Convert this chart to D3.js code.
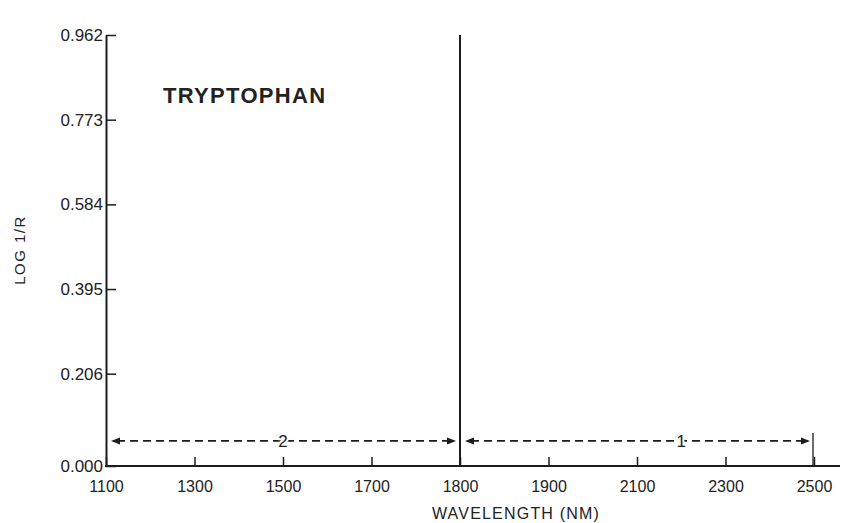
<!DOCTYPE html>
<html>
<head>
<meta charset="utf-8">
<script src="https://cdn.jsdelivr.net/npm/d3@7"></script>
<style>
  body { margin: 0; background: #fff; }
  svg { display: block; font-family: "Liberation Sans", Arial, sans-serif; }
  .tick text { fill: #222; }
</style>
</head>
<body>
<div id="chart"></div>
<script>

// tick labels along the wavelength axis (printed evenly spaced on the original)
var xTicks = [1100, 1300, 1500, 1700, 1800, 1900, 2100, 2300, 2500];
var yTicks = [0.000, 0.206, 0.395, 0.584, 0.773, 0.962];

// divider between the two regions
var dividerAt = 1800;

// the two dashed region arrows
var regionNames = ['2', '1'];
var regionFrom = [1100, 1800];
var regionTo = [1800, 2500];
var regionLabelAt = [1500, 2200];
var regionLevel = 0.056;

var width = 843;
var height = 523;
var plotLeft = 106;   // y axis position
var plotRight = 814;  // last tick
var plotTop = 35;
var plotBottom = 466;
var ink = '#1c1c1c';

var step = (plotRight - plotLeft) / (xTicks.length - 1);

// piecewise scale so that every labelled tick is evenly spaced
var x = d3.scaleLinear()
    .domain(xTicks)
    .range(xTicks.map(function(d, i) { return plotLeft + i * step; }));

var y = d3.scaleLinear()
    .domain([0, d3.max(yTicks)])
    .range([plotBottom, plotTop]);

var svg = d3.select('#chart')
  .append('svg')
    .attr('width', width)
    .attr('height', height);

// y axis, ticks point inwards
var yAxis = svg.append('g')
    .attr('transform', 'translate(' + plotLeft + ',0)')
    .call(d3.axisLeft(y)
      .tickValues(yTicks)
      .tickFormat(d3.format('.3f'))
      .tickSizeInner(-10)
      .tickSizeOuter(0)
      .tickPadding(3));

yAxis.select('.domain').attr('stroke', ink).attr('stroke-width', 2);
yAxis.selectAll('.tick line').attr('stroke', ink).attr('stroke-width', 1.5);
yAxis.selectAll('.tick text')
    .attr('font-size', 17)
    .attr('fill', '#222');

// x axis
var xAxis = svg.append('g')
    .attr('transform', 'translate(0,' + plotBottom + ')')
    .call(d3.axisBottom(x)
      .tickValues(xTicks)
      .tickFormat(d3.format('d'))
      .tickSizeInner(-9)
      .tickSizeOuter(0)
      .tickPadding(15));

xAxis.select('.domain').remove();
xAxis.selectAll('.tick line').attr('stroke', ink).attr('stroke-width', 1.5);
xAxis.selectAll('.tick text')
    .attr('font-size', 16)
    .attr('fill', '#222');

// the x axis line runs past the last tick to the edge
svg.append('line')
    .attr('x1', plotLeft - 1)
    .attr('x2', 840)
    .attr('y1', plotBottom)
    .attr('y2', plotBottom)
    .attr('stroke', ink)
    .attr('stroke-width', 2);

// divider at 1800
svg.append('line')
    .attr('x1', x(dividerAt))
    .attr('x2', x(dividerAt))
    .attr('y1', y(d3.max(yTicks)))
    .attr('y2', y(0))
    .attr('stroke', ink)
    .attr('stroke-width', 2);

// end marker at the end of the last region
svg.append('line')
    .attr('x1', x(d3.max(regionTo)) - 1)
    .attr('x2', x(d3.max(regionTo)) - 1)
    .attr('y1', y(regionLevel) - 8)
    .attr('y2', y(0))
    .attr('stroke', ink)
    .attr('stroke-width', 1.3);

// region arrows
var arrowHead = function(tipX, tipY, dir) {
  var len = 9, half = 3.5;
  return 'M' + tipX + ',' + tipY +
    'L' + (tipX - dir * len) + ',' + (tipY - half) +
    'L' + (tipX - dir * len) + ',' + (tipY + half) + 'Z';
}

regionNames.forEach(function(name, i) {
  var x1 = x(regionFrom[i]) + 5;
  var x2 = x(regionTo[i]) - 4;
  var yy = y(regionLevel);

  svg.append('line')
      .attr('x1', x1 + 6)
      .attr('x2', x2 - 6)
      .attr('y1', yy)
      .attr('y2', yy)
      .attr('stroke', ink)
      .attr('stroke-width', 1.7)
      .attr('stroke-dasharray', '8,5');

  svg.append('path')
      .attr('d', arrowHead(x1, yy, -1))
      .attr('fill', ink);

  svg.append('path')
      .attr('d', arrowHead(x2, yy, 1))
      .attr('fill', ink);

  svg.append('text')
      .attr('x', x(regionLabelAt[i]))
      .attr('y', yy + 6)
      .attr('text-anchor', 'middle')
      .attr('font-size', 17)
      .attr('fill', '#222')
      .attr('stroke', '#fff')
      .attr('stroke-width', 4)
      .attr('paint-order', 'stroke')
      .text(name);
});

// title inside the plot
svg.append('text')
    .attr('x', 163)
    .attr('y', 103)
    .attr('font-size', 22)
    .attr('font-weight', 'bold')
    .attr('letter-spacing', 1.3)
    .attr('fill', '#222')
    .text('TRYPTOPHAN');

// axis titles
svg.append('text')
    .attr('transform', 'translate(25,250) rotate(-90)')
    .attr('text-anchor', 'middle')
    .attr('font-size', 15)
    .attr('letter-spacing', 1.5)
    .attr('fill', '#222')
    .text('LOG 1/R');

svg.append('text')
    .attr('x', 516)
    .attr('y', 519)
    .attr('text-anchor', 'middle')
    .attr('font-size', 16)
    .attr('letter-spacing', 1.2)
    .attr('fill', '#222')
    .text('WAVELENGTH (NM)');

</script>
</body>
</html>
